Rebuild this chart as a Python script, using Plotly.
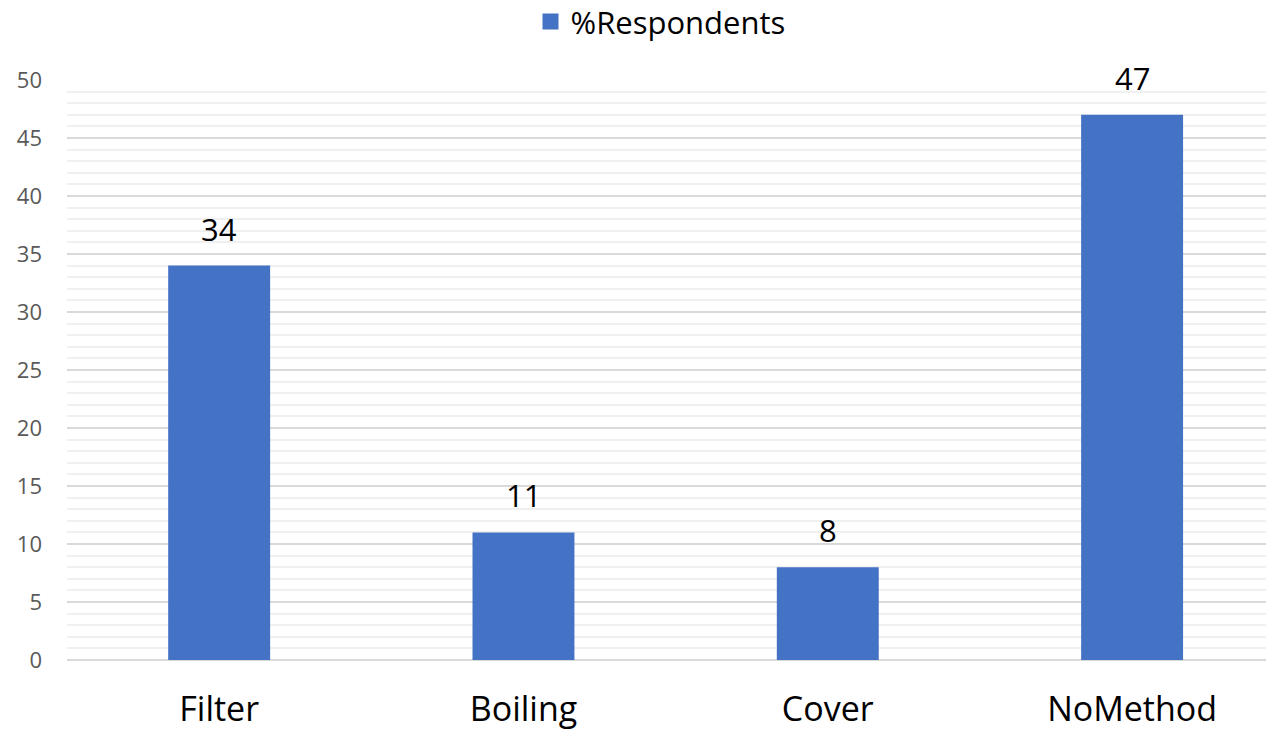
import plotly.graph_objects as go

categories = ["Filter", "Boiling", "Cover", "NoMethod"]
respondents = [34, 11, 8, 47]
series_name = "%Respondents"

BAR_COLOR = "#4472C4"
FONT = "Open Sans"

fig = go.Figure()
fig.add_trace(go.Bar(
    x=categories, y=respondents, name=series_name,
    marker=dict(color=BAR_COLOR, line=dict(width=0)),
    showlegend=False,
))
# legend entry with a larger square swatch
fig.add_trace(go.Scatter(
    x=[None], y=[None], mode="markers", name=series_name,
    marker=dict(symbol="square", size=20, color=BAR_COLOR),
    showlegend=True, hoverinfo="skip",
))

for c, v in zip(categories, respondents):
    fig.add_annotation(x=c, y=v, text=str(v), showarrow=False,
                       yanchor="bottom", yshift=14,
                       font=dict(family=FONT, size=31, color="#000000"))

fig.update_layout(
    width=1266, height=731,
    margin=dict(l=67, r=0, t=80, b=71, autoexpand=False),
    paper_bgcolor="white", plot_bgcolor="white",
    bargap=0.665,
    font=dict(family=FONT),
    legend=dict(orientation="h", x=0.495, xanchor="center", y=0.970, yref="container",
                yanchor="middle", font=dict(family=FONT, size=31, color="#000000"),
                itemsizing="trace", itemwidth=30),
    xaxis=dict(range=[-0.5, 3.44], showgrid=False, zeroline=False, showline=False,
               ticks="", ticklabelstandoff=26,
               tickfont=dict(family=FONT, size=34, color="#000000")),
    yaxis=dict(range=[0, 50], dtick=5, showgrid=True, gridcolor="#D9D9D9", gridwidth=1.5,
               zeroline=True, zerolinecolor="#D9D9D9", zerolinewidth=1.5,
               showline=False, ticks="", ticklabelstandoff=24,
               tickfont=dict(family=FONT, size=22, color="#595959"),
               minor=dict(dtick=1, showgrid=True, gridcolor="#F0F0F0", gridwidth=1.5)),
)

fig.write_html("out.html")
